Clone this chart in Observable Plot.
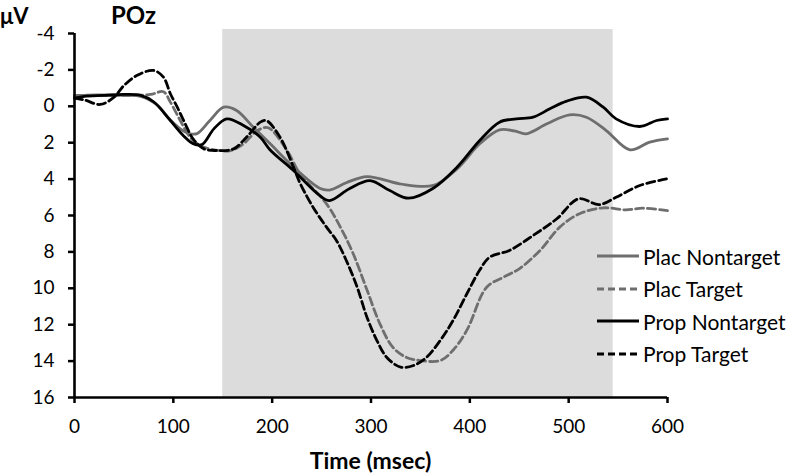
<!DOCTYPE html>
<html>
<head>
<meta charset="utf-8">
<script src="https://cdn.jsdelivr.net/npm/d3@7"></script>
<script src="https://cdn.jsdelivr.net/npm/@observablehq/plot@0.6"></script>
<style>
  body { margin: 0; background: #fff; }
  #wrap { position: relative; width: 788px; height: 474px; font-family: Lato, "DejaVu Sans", sans-serif; color: #000; }
  .ovl { position: absolute; font-weight: bold; white-space: nowrap; line-height: 1; }
  #legend { position: absolute; left: 596px; top: 240px; }
  #legend .row { display: flex; align-items: center; height: 32.5px; font-size: 21px; }
  #legend svg { margin-right: 3px; }
</style>
</head>
<body>
<div id="wrap"></div>
<script>
// ---- data ----
const yTicks = [-4, -2, 0, 2, 4, 6, 8, 10, 12, 14, 16];
const xTicks = [0, 100, 200, 300, 400, 500, 600];
const shadeStart = 150, shadeEnd = 545;

const seriesNames = ["Plac Nontarget", "Plac Target", "Prop Nontarget", "Prop Target"];

const placNontargetT = [0,10,50,67,83,97,110,117,124,137,151,164,181,198,221,248,258,275,296,329,363,387,410,430,445,457,478,501,518,538,562,582,600];
const placNontargetV = [-0.5,-0.6,-0.6,-0.55,-0.1,0.75,1.35,1.51,1.5,0.78,0.05,0.23,1.15,2.06,3.3,4.5,4.6,4.2,3.86,4.26,4.35,3.44,2.06,1.29,1.35,1.51,0.96,0.47,0.6,1.33,2.39,1.97,1.79];

const placTargetT = [0,20,50,77,90,97,107,117,127,141,158,171,185,196,215,228,255,269,282,296,309,322,336,350,370,383,397,417,434,450,471,491,511,535,558,575,600];
const placTargetV = [-0.6,-0.6,-0.6,-0.65,-0.8,-0.23,0.78,1.7,2.15,2.39,2.43,2.06,1.33,1.18,2.43,3.7,5.36,6.64,8.1,10.1,11.95,13.23,13.8,13.97,13.97,13.4,12.3,9.94,9.39,8.93,7.92,6.64,5.9,5.58,5.69,5.6,5.73];

const propNontargetT = [0,10,30,50,67,80,97,110,120,129,141,154,171,188,198,221,248,258,278,299,319,338,363,387,410,430,447,464,481,498,518,535,548,572,589,600];
const propNontargetV = [-0.45,-0.55,-0.6,-0.65,-0.6,-0.25,0.78,1.6,2.05,2.1,1.24,0.69,1.05,1.7,2.4,3.5,4.9,5.18,4.53,4.08,4.63,5.05,4.5,3.35,1.88,0.87,0.69,0.6,0.14,-0.28,-0.5,0.05,0.69,1.11,0.78,0.69];

const propTargetT = [0,10,26,40,50,63,80,90,97,104,112,120,131,144,161,174,188,194,208,222,228,242,255,265,275,286,296,306,316,330,343,356,370,383,397,410,420,440,464,488,510,531,548,572,600];
const propTargetV = [-0.45,-0.35,-0.1,-0.5,-1.14,-1.69,-1.97,-1.6,-0.69,0.05,0.96,1.79,2.34,2.43,2.34,1.7,0.87,0.78,1.7,3.4,4.2,5.6,6.64,7.37,8.47,9.94,11.6,12.87,13.8,14.33,14.24,13.8,12.87,11.77,10.3,9.0,8.29,7.92,7.1,6.18,5.08,5.4,5.0,4.35,3.98];

// ---- build tables ----
const toRows = (name, ts, vs) => ts.map((t, i) => ({series: name, t, v: vs[i]}));
const rows = {
  "Plac Nontarget": toRows("Plac Nontarget", placNontargetT, placNontargetV),
  "Plac Target": toRows("Plac Target", placTargetT, placTargetV),
  "Prop Nontarget": toRows("Prop Nontarget", propNontargetT, propNontargetV),
  "Prop Target": toRows("Prop Target", propTargetT, propTargetV)
};
const styles = {
  "Plac Nontarget": {stroke: "#6e6e6e", dash: null},
  "Plac Target": {stroke: "#6e6e6e", dash: "8,4"},
  "Prop Nontarget": {stroke: "#000000", dash: null},
  "Prop Target": {stroke: "#000000", dash: "8,4"}
};

const lineMarks = seriesNames.map(name => Plot.line(rows[name], {
  x: "t", y: "v",
  stroke: styles[name].stroke,
  strokeWidth: 2.8,
  strokeDasharray: styles[name].dash,
  curve: "catmull-rom"
}));

const chart = Plot.plot({
  width: 788,
  height: 474,
  marginTop: 33,
  marginRight: 121,
  marginBottom: 77,
  marginLeft: 74,
  style: {fontFamily: "Lato, 'DejaVu Sans', sans-serif", fontSize: "19px", color: "#000", background: "#fff"},
  x: {domain: [0, 600]},
  y: {domain: [-4, 16], reverse: true},
  marks: [
    Plot.rect([{x1: shadeStart, x2: shadeEnd}], {x1: "x1", x2: "x2", fill: "#dcdcdc", insetTop: -4}),
    ...lineMarks,
    Plot.axisY({ticks: yTicks, tickSize: 6, tickPadding: 14, strokeWidth: 2.5, label: null, tickFormat: d => String(d)}),
    Plot.axisX({ticks: xTicks, tickSize: 6, tickPadding: 16, strokeWidth: 2.5, label: null}),
    Plot.ruleX([0], {stroke: "#000", strokeWidth: 2.6}),
    Plot.ruleY([16], {stroke: "#000", strokeWidth: 2.6})
  ]
});

const wrap = document.getElementById("wrap");
wrap.appendChild(chart);

// overlay texts
function addText(txt, left, top, size) {
  const d = document.createElement("div");
  d.className = "ovl";
  d.textContent = txt;
  d.style.left = left + "px";
  d.style.top = top + "px";
  d.style.fontSize = size + "px";
  wrap.appendChild(d);
  return d;
}
addText("μV", 0, 5, 22);
addText("POz", 111, 3, 24);
const xl = addText("Time (msec)", 0, 449, 23);
xl.style.width = (74 + 667) + "px";
xl.style.textAlign = "center";

// legend
const leg = document.createElement("div");
leg.id = "legend";
seriesNames.forEach(name => {
  const r = document.createElement("div");
  r.className = "row";
  const s = styles[name];
  r.innerHTML = `<svg width="44" height="10"><line x1="1" y1="5" x2="43" y2="5" stroke="${s.stroke}" stroke-width="2.8" ${s.dash ? `stroke-dasharray="7,4"` : ""}/></svg><span>${name}</span>`;
  leg.appendChild(r);
});
wrap.appendChild(leg);
</script>
</body>
</html>
